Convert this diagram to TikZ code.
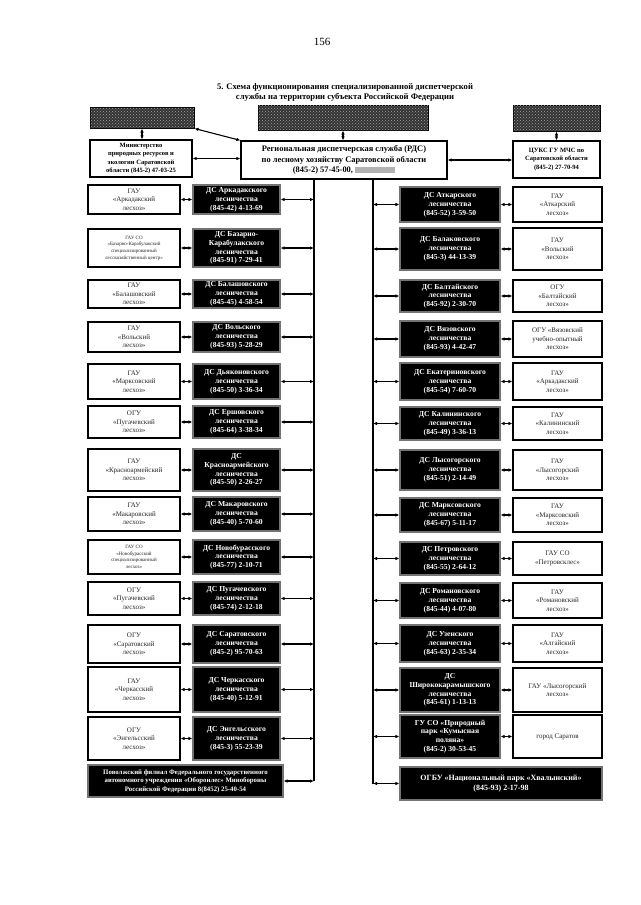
\documentclass[tikz,border=0pt]{standalone}
\usepackage{fontspec}
\setmainfont{Liberation Serif}
\usetikzlibrary{arrows.meta,patterns}

\begin{document}
\begin{tikzpicture}[x=1pt, y=-1pt,
    gau/.style={draw, line width=1.1pt, fill=white, align=center, inner sep=1pt, text=black!85, font=\fontsize{7}{8.6}\selectfont},
    gausmall/.style={gau, font=\fontsize{5}{6.6}\selectfont},
    dsbox/.style={draw=black!55, line width=1.1pt, fill=black, text=white, align=center, inner sep=1pt, font=\fontsize{7.6}{8.8}\selectfont\bfseries},
    headbox/.style={draw, line width=1.2pt, fill=white, align=center, inner sep=1pt},
    noisebox/.style={draw=black, line width=1pt, fill=black!80, postaction={pattern=crosshatch dots, pattern color=black!35}},
    link/.style={line width=1.1pt, {Latex[length=4pt,width=3.5pt]}-{Latex[length=4pt,width=3.5pt]}},
    bus/.style={line width=1.1pt}]
    \useasboundingbox (0,0) rectangle (640,905);

    \node[font=\fontsize{11}{13}\selectfont] (pagenum) at (322,42) {156};
    \node[font=\fontsize{8.6}{10}\selectfont\bfseries, align=center] (title) at (345,92)
        {5. Схема функционирования специализированной диспетчерской\\службы на территории субъекта Российской Федерации};

    % top row
    \node[noisebox, minimum width=104, minimum height=21] (topleft) at (142,117.5) {};
    \node[noisebox, minimum width=170, minimum height=25] (topmid) at (343,117.5) {};
    \node[noisebox, minimum width=87, minimum height=26] (topright) at (556.5,118) {};

    \node[headbox, minimum width=102, minimum height=37, font=\fontsize{6.5}{8.4}\selectfont\bfseries] (minprir) at (141,158.5)
        {Министерство\\природных ресурсов и\\экологии Саратовской\\области (845-2) 47-03-25};
    \node[headbox, minimum width=206, minimum height=38, font=\fontsize{8.4}{10.5}\selectfont\bfseries] (rds) at (344,160)
        {Региональная диспетчерская служба (РДС)\\по лесному хозяйству Саратовской области\\(845-2) 57-45-00, {\color{black!30}\rule{40pt}{6pt}}};
    \node[headbox, minimum width=87, minimum height=37, font=\fontsize{6.5}{8.4}\selectfont\bfseries] (tsuks) at (556.5,159.5)
        {ЦУКС ГУ МЧС по\\Саратовской области\\(845-2) 27-70-94};

    \draw[link] (topleft.south) -- (topleft.south |- minprir.north);
    \draw[link] (topleft.south east) -- (rds.north west);
    \draw[link] (topmid.south) -- (topmid.south |- rds.north);
    \draw[link] (topright.south) -- (topright.south |- tsuks.north);
    \draw[link] (minprir.east) -- (minprir.east -| rds.west);
    \draw[link] (rds.east) -- (rds.east -| tsuks.west);

    % left column
    \node[gau, minimum width=92, minimum height=29] (gaul1) at (134,199.5) {ГАУ\\«Аркадакский\\лесхоз»};
    \node[gausmall, minimum width=92, minimum height=38] (gaul2) at (134,248) {ГАУ СО\\«Базарно-Карабулакский\\специализированный\\лесохозяйственный центр»};
    \node[gau, minimum width=92, minimum height=28] (gaul3) at (134,294) {ГАУ\\«Балашовский\\лесхоз»};
    \node[gau, minimum width=92, minimum height=30] (gaul4) at (134,337) {ГАУ\\«Вольский\\лесхоз»};
    \node[gau, minimum width=92, minimum height=35] (gaul5) at (134,381.5) {ГАУ\\«Марксовский\\лесхоз»};
    \node[gau, minimum width=92, minimum height=32] (gaul6) at (134,422) {ОГУ\\«Пугачевский\\лесхоз»};
    \node[gau, minimum width=92, minimum height=42] (gaul7) at (134,470) {ГАУ\\«Красноармейский\\лесхоз»};
    \node[gau, minimum width=92, minimum height=34] (gaul8) at (134,514) {ГАУ\\«Макаровский\\лесхоз»};
    \node[gausmall, minimum width=92, minimum height=34] (gaul9) at (134,557) {ГАУ СО\\«Новобурасский\\специализированный\\лесхоз»};
    \node[gau, minimum width=92, minimum height=33] (gaul10) at (134,598.5) {ОГУ\\«Пугачевский\\лесхоз»};
    \node[gau, minimum width=92, minimum height=38] (gaul11) at (134,644) {ОГУ\\«Саратовский\\лесхоз»};
    \node[gau, minimum width=92, minimum height=45] (gaul12) at (134,689.5) {ГАУ\\«Черкасский\\лесхоз»};
    \node[gau, minimum width=92, minimum height=43] (gaul13) at (134,738.5) {ОГУ\\«Энгельсский\\лесхоз»};

    \node[dsbox, minimum width=87, minimum height=29] (dsl1) at (236.5,199.5) {ДС Аркадакского\\лесничества\\(845-42) 4-13-69};
    \node[dsbox, minimum width=87, minimum height=38] (dsl2) at (236.5,248) {ДС Базарно-\\Карабулакского\\лесничества\\(845-91) 7-29-41};
    \node[dsbox, minimum width=87, minimum height=28] (dsl3) at (236.5,294) {ДС Балашовского\\лесничества\\(845-45) 4-58-54};
    \node[dsbox, minimum width=87, minimum height=30] (dsl4) at (236.5,337) {ДС Вольского\\лесничества\\(845-93) 5-28-29};
    \node[dsbox, minimum width=87, minimum height=35] (dsl5) at (236.5,381.5) {ДС Дьяконовского\\лесничества\\(845-50) 3-36-34};
    \node[dsbox, minimum width=87, minimum height=32] (dsl6) at (236.5,422) {ДС Ершовского\\лесничества\\(845-64) 3-38-34};
    \node[dsbox, minimum width=87, minimum height=42] (dsl7) at (236.5,470) {ДС\\Красноармейского\\лесничества\\(845-50) 2-26-27};
    \node[dsbox, minimum width=87, minimum height=34] (dsl8) at (236.5,514) {ДС Макаровского\\лесничества\\(845-40) 5-70-60};
    \node[dsbox, minimum width=87, minimum height=34] (dsl9) at (236.5,557) {ДС Новобурасского\\лесничества\\(845-77) 2-10-71};
    \node[dsbox, minimum width=87, minimum height=33] (dsl10) at (236.5,598.5) {ДС Пугачевского\\лесничества\\(845-74) 2-12-18};
    \node[dsbox, minimum width=87, minimum height=38] (dsl11) at (236.5,644) {ДС Саратовского\\лесничества\\(845-2) 95-70-63};
    \node[dsbox, minimum width=87, minimum height=45] (dsl12) at (236.5,689.5) {ДС Черкасского\\лесничества\\(845-40) 5-12-91};
    \node[dsbox, minimum width=87, minimum height=43] (dsl13) at (236.5,738.5) {ДС Энгельсского\\лесничества\\(845-3) 55-23-39};
    \node[dsbox, minimum width=195, minimum height=32, font=\fontsize{6.8}{8.4}\selectfont\bfseries] (oboronles) at (185.5,781)
        {Поволжский филиал Федерального государственного\\автономного учреждения «Оборонлес» Минобороны\\Российской Федерации 8(8452) 25-40-54};

    % right column
    \node[dsbox, minimum width=100, minimum height=35] (dsr1) at (450,204.5) {ДС Аткарского\\лесничества\\(845-52) 3-59-50};
    \node[dsbox, minimum width=100, minimum height=42] (dsr2) at (450,249) {ДС Балаковского\\лесничества\\(845-3) 44-13-39};
    \node[dsbox, minimum width=100, minimum height=32] (dsr3) at (450,296) {ДС Балтайского\\лесничества\\(845-92) 2-30-70};
    \node[dsbox, minimum width=100, minimum height=36] (dsr4) at (450,339) {ДС Вязовского\\лесничества\\(845-93) 4-42-47};
    \node[dsbox, minimum width=100, minimum height=37] (dsr5) at (450,381.5) {ДС Екатериновского\\лесничества\\(845-54) 7-60-70};
    \node[dsbox, minimum width=100, minimum height=33] (dsr6) at (450,423.5) {ДС Калининского\\лесничества\\(845-49) 3-36-13};
    \node[dsbox, minimum width=100, minimum height=40] (dsr7) at (450,470) {ДС Лысогорского\\лесничества\\(845-51) 2-14-49};
    \node[dsbox, minimum width=100, minimum height=34] (dsr8) at (450,515) {ДС Марксовского\\лесничества\\(845-67) 5-11-17};
    \node[dsbox, minimum width=100, minimum height=33] (dsr9) at (450,558.5) {ДС Петровского\\лесничества\\(845-55) 2-64-12};
    \node[dsbox, minimum width=100, minimum height=35] (dsr10) at (450,600.5) {ДС Романовского\\лесничества\\(845-44) 4-07-80};
    \node[dsbox, minimum width=100, minimum height=37] (dsr11) at (450,643.5) {ДС Узенского\\лесничества\\(845-63) 2-35-34};
    \node[dsbox, minimum width=100, minimum height=44] (dsr12) at (450,690) {ДС\\Ширококарамышского\\лесничества\\(845-61) 1-13-13};
    \node[dsbox, minimum width=100, minimum height=43] (dsr13) at (450,736.5) {ГУ СО «Природный\\парк «Кумысная\\поляна»\\(845-2) 30-53-45};
    \node[dsbox, minimum width=202, minimum height=33, font=\fontsize{8}{9.6}\selectfont\bfseries] (natpark) at (501,783.5)
        {ОГБУ «Национальный парк «Хвалынский»\\(845-93) 2-17-98};

    \node[gau, minimum width=89, minimum height=35] (gaur1) at (557.5,204.5) {ГАУ\\«Аткарский\\лесхоз»};
    \node[gau, minimum width=89, minimum height=42] (gaur2) at (557.5,249) {ГАУ\\«Вольский\\лесхоз»};
    \node[gau, minimum width=89, minimum height=32] (gaur3) at (557.5,296) {ОГУ\\«Балтайский\\лесхоз»};
    \node[gau, minimum width=89, minimum height=36] (gaur4) at (557.5,339) {ОГУ «Вязовский\\учебно-опытный\\лесхоз»};
    \node[gau, minimum width=89, minimum height=37] (gaur5) at (557.5,381.5) {ГАУ\\«Аркадакский\\лесхоз»};
    \node[gau, minimum width=89, minimum height=33] (gaur6) at (557.5,423.5) {ГАУ\\«Калининский\\лесхоз»};
    \node[gau, minimum width=89, minimum height=40] (gaur7) at (557.5,470) {ГАУ\\«Лысогорский\\лесхоз»};
    \node[gau, minimum width=89, minimum height=34] (gaur8) at (557.5,515) {ГАУ\\«Марксовский\\лесхоз»};
    \node[gau, minimum width=89, minimum height=33] (gaur9) at (557.5,558.5) {ГАУ СО\\«Петровсклес»};
    \node[gau, minimum width=89, minimum height=35] (gaur10) at (557.5,600.5) {ГАУ\\«Романовский\\лесхоз»};
    \node[gau, minimum width=89, minimum height=37] (gaur11) at (557.5,643.5) {ГАУ\\«Алгайский\\лесхоз»};
    \node[gau, minimum width=89, minimum height=44] (gaur12) at (557.5,690) {ГАУ «Лысогорский\\лесхоз»};
    \node[gau, minimum width=89, minimum height=43] (gaur13) at (557.5,736.5) {город Саратов};

    % buses
    \coordinate (busL) at (314,179);
    \coordinate (busR) at (373,179);
    \draw[bus] (busL) -- (busL |- oboronles.east);
    \draw[bus] (busR) -- (busR |- natpark.west);

    \draw[link] (gaul1.east) -- (dsl1.west);
    \draw[link] (gaul2.east) -- (dsl2.west);
    \draw[link] (gaul3.east) -- (dsl3.west);
    \draw[link] (gaul4.east) -- (dsl4.west);
    \draw[link] (gaul5.east) -- (dsl5.west);
    \draw[link] (gaul6.east) -- (dsl6.west);
    \draw[link] (gaul7.east) -- (dsl7.west);
    \draw[link] (gaul8.east) -- (dsl8.west);
    \draw[link] (gaul9.east) -- (dsl9.west);
    \draw[link] (gaul10.east) -- (dsl10.west);
    \draw[link] (gaul11.east) -- (dsl11.west);
    \draw[link] (gaul12.east) -- (dsl12.west);
    \draw[link] (gaul13.east) -- (dsl13.west);

    \draw[link] (dsl1.east) -- (dsl1.east -| busL);
    \draw[link] (dsl2.east) -- (dsl2.east -| busL);
    \draw[link] (dsl3.east) -- (dsl3.east -| busL);
    \draw[link] (dsl4.east) -- (dsl4.east -| busL);
    \draw[link] (dsl5.east) -- (dsl5.east -| busL);
    \draw[link] (dsl6.east) -- (dsl6.east -| busL);
    \draw[link] (dsl7.east) -- (dsl7.east -| busL);
    \draw[link] (dsl8.east) -- (dsl8.east -| busL);
    \draw[link] (dsl9.east) -- (dsl9.east -| busL);
    \draw[link] (dsl10.east) -- (dsl10.east -| busL);
    \draw[link] (dsl11.east) -- (dsl11.east -| busL);
    \draw[link] (dsl12.east) -- (dsl12.east -| busL);
    \draw[link] (dsl13.east) -- (dsl13.east -| busL);
    \draw[link] (oboronles.east) -- (oboronles.east -| busL);

    \draw[link] (busR |- dsr1.west) -- (dsr1.west);
    \draw[link] (busR |- dsr2.west) -- (dsr2.west);
    \draw[link] (busR |- dsr3.west) -- (dsr3.west);
    \draw[link] (busR |- dsr4.west) -- (dsr4.west);
    \draw[link] (busR |- dsr5.west) -- (dsr5.west);
    \draw[link] (busR |- dsr6.west) -- (dsr6.west);
    \draw[link] (busR |- dsr7.west) -- (dsr7.west);
    \draw[link] (busR |- dsr8.west) -- (dsr8.west);
    \draw[link] (busR |- dsr9.west) -- (dsr9.west);
    \draw[link] (busR |- dsr10.west) -- (dsr10.west);
    \draw[link] (busR |- dsr11.west) -- (dsr11.west);
    \draw[link] (busR |- dsr12.west) -- (dsr12.west);
    \draw[link] (busR |- dsr13.west) -- (dsr13.west);
    \draw[link] (busR |- natpark.west) -- (natpark.west);

    \draw[link] (dsr1.east) -- (gaur1.west);
    \draw[link] (dsr2.east) -- (gaur2.west);
    \draw[link] (dsr3.east) -- (gaur3.west);
    \draw[link] (dsr4.east) -- (gaur4.west);
    \draw[link] (dsr5.east) -- (gaur5.west);
    \draw[link] (dsr6.east) -- (gaur6.west);
    \draw[link] (dsr7.east) -- (gaur7.west);
    \draw[link] (dsr8.east) -- (gaur8.west);
    \draw[link] (dsr9.east) -- (gaur9.west);
    \draw[link] (dsr10.east) -- (gaur10.west);
    \draw[link] (dsr11.east) -- (gaur11.west);
    \draw[link] (dsr12.east) -- (gaur12.west);
    \draw[link] (dsr13.east) -- (gaur13.west);
\end{tikzpicture}
\end{document}
